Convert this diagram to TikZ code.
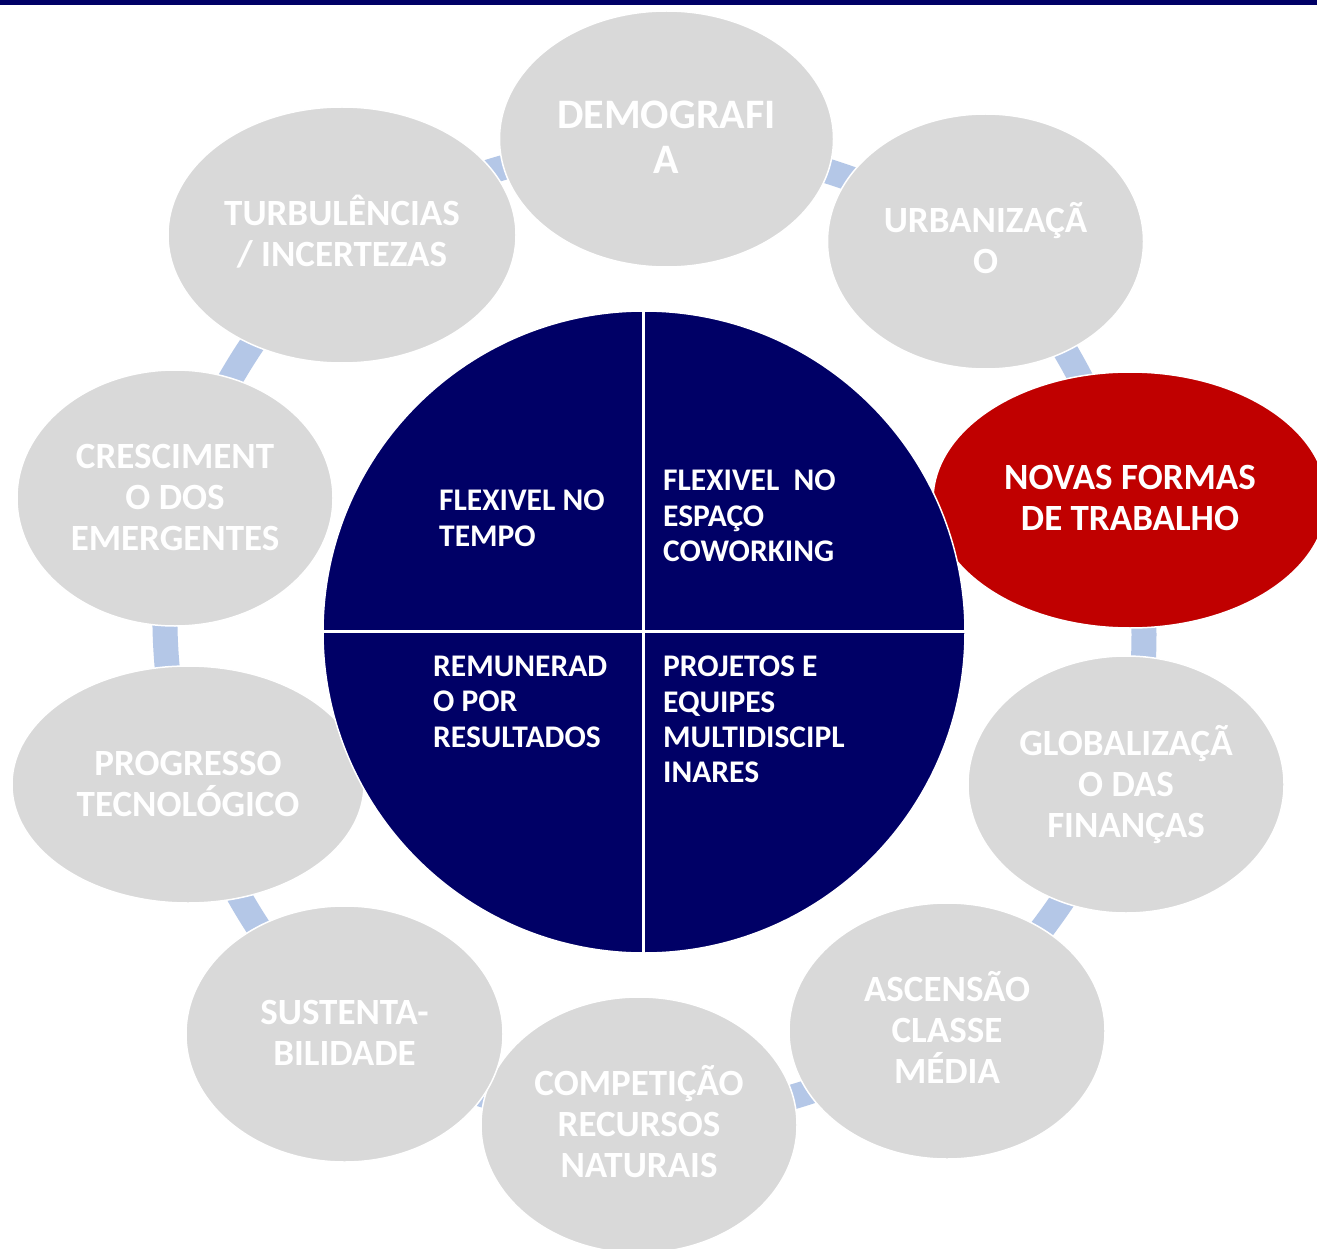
\documentclass[tikz,border=0pt]{standalone}
\usepackage{fontspec}
\setmainfont{Carlito}
\usetikzlibrary{shapes.geometric}
\pgfdeclarelayer{background}
\pgfsetlayers{background,main}
\definecolor{navy}{HTML}{000066}
\definecolor{bubgray}{HTML}{D9D9D9}
\definecolor{bubred}{HTML}{C00000}
\definecolor{connblue}{HTML}{B4C7E7}
\tikzset{
  bub/.style={ellipse, fill=bubgray, draw=white, line width=1.5pt, inner sep=0pt},
  otxt/.style={text=white, font=\bfseries\fontsize{37}{41}\selectfont, align=center, inner sep=0pt},
  itxt/.style={text=white, font=\bfseries\fontsize{31.5}{35.3}\selectfont, align=left, inner sep=0pt, anchor=north west},
  conn/.style={draw=connblue, line width=25pt, bend left=11},
  cross/.style={draw=white, line width=3pt},
}
\begin{document}
\begin{tikzpicture}[x=1pt,y=-1pt]
\useasboundingbox (0,0) rectangle (1317,1249);
\begin{pgfonlayer}{background}
  \fill[white] (0,0) rectangle (1317,1249);
\end{pgfonlayer}
\clip (0,0) rectangle (1317,1249);
\fill[navy] (0,0) rectangle (1317,5);

% outer ellipses
\node[bub, minimum width=334pt, minimum height=256pt] (demo) at (666.5,139) {};
\node[bub, minimum width=316pt, minimum height=255pt] (urb) at (985.5,241.5) {};
\node[bub, fill=bubred, minimum width=394pt, minimum height=256pt] (novas) at (1130,500) {};
\node[bub, minimum width=316pt, minimum height=257pt] (glob) at (1126,784.5) {};
\node[bub, minimum width=316pt, minimum height=256pt] (asc) at (947,1031) {};
\node[bub, minimum width=316pt, minimum height=256pt] (comp) at (639,1125) {};
\node[bub, minimum width=317pt, minimum height=256pt] (sust) at (344.5,1034) {};
\node[bub, minimum width=352pt, minimum height=237pt] (prog) at (188,784.5) {};
\node[bub, minimum width=316pt, minimum height=256pt] (cresc) at (175,498) {};
\node[bub, minimum width=348pt, minimum height=256pt] (turb) at (342,235) {};

% connectors
\begin{pgfonlayer}{background}
  \draw[conn] (turb.center) to (demo.center);
  \draw[conn] (demo.center) to (urb.center);
  \draw[conn] (urb.center) to (novas.center);
  \draw[conn] (novas.center) to (glob.center);
  \draw[conn] (glob.center) to (asc.center);
  \draw[conn] (asc.center) to (comp.center);
  \draw[conn] (comp.center) to (sust.center);
  \draw[conn] (sust.center) to (prog.center);
  \draw[conn] (prog.center) to (cresc.center);
  \draw[conn] (cresc.center) to (turb.center);
\end{pgfonlayer}

% central circle
\node[circle, fill=navy, draw=white, line width=1.5pt, minimum size=642pt, inner sep=0pt] (core) at (644,632) {};
\draw[cross] ([xshift=-0.5pt]core.north) -- ([xshift=-0.5pt]core.south);
\draw[cross] ([yshift=1pt]core.west) -- ([yshift=1pt]core.east);

% outer texts
\node[otxt, font=\bfseries\fontsize{42}{45}\selectfont, yshift=2pt] at (demo.center) {DEMOGRAFI\\A};
\node[otxt, yshift=3pt] at (urb.center) {URBANIZAÇÃ\\O};
\node[otxt, yshift=2pt] at (novas.center) {NOVAS FORMAS\\DE TRABALHO};
\node[otxt] at (glob.center) {GLOBALIZAÇÃ\\O DAS\\FINANÇAS};
\node[otxt, yshift=4pt] at (asc.center) {ASCENSÃO\\CLASSE\\MÉDIA};
\node[otxt, yshift=3pt] at (comp.center) {COMPETIÇÃO\\RECURSOS\\NATURAIS};
\node[otxt, yshift=1pt] at (sust.center) {SUSTENTA-\\BILIDADE};
\node[otxt, yshift=1pt] at (prog.center) {PROGRESSO\\TECNOLÓGICO};
\node[otxt, yshift=1pt] at (cresc.center) {CRESCIMENT\\O DOS\\EMERGENTES};
\node[otxt, yshift=3pt] at (turb.center) {TURBULÊNCIAS\\/ INCERTEZAS};

% quadrant texts
\node[itxt] (q1) at (439,490) {FLEXIVEL NO\\TEMPO};
\node[itxt] (q2) at (663,470) {FLEXIVEL\ \ NO\\ESPAÇO\\COWORKING};
\node[itxt] (q3) at (433,656) {REMUNERAD\\O POR\\RESULTADOS};
\node[itxt] (q4) at (663,656) {PROJETOS E\\EQUIPES\\MULTIDISCIPL\\INARES};
\end{tikzpicture}
\end{document}
